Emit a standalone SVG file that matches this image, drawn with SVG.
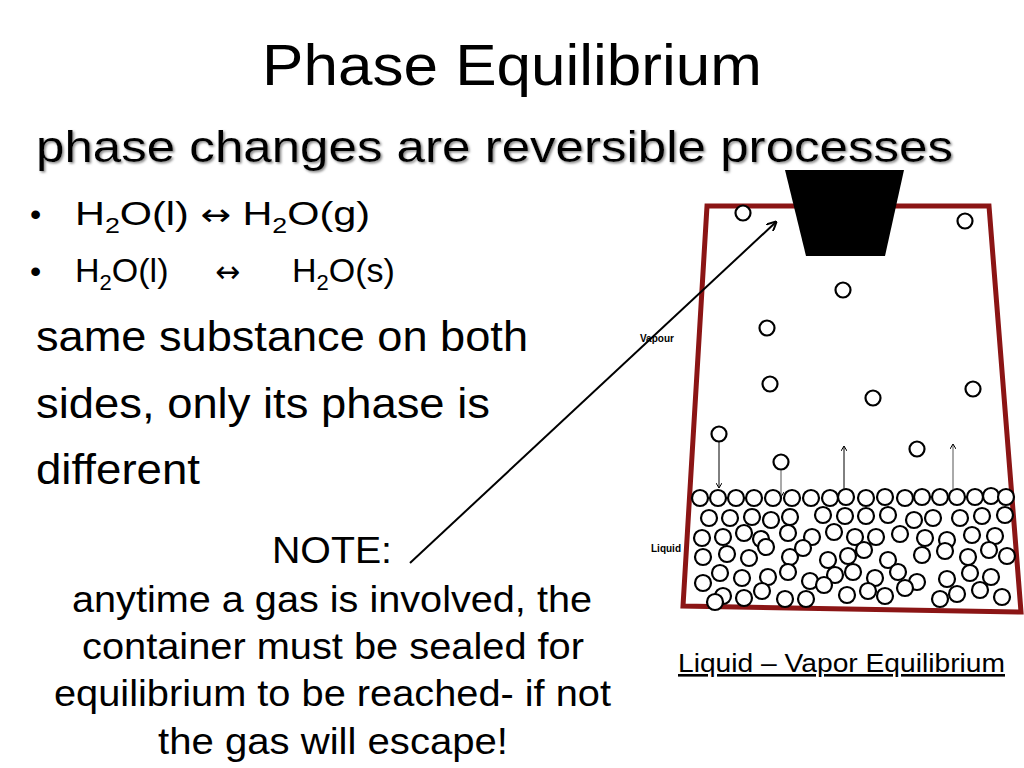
<svg xmlns="http://www.w3.org/2000/svg" width="1024" height="768" viewBox="0 0 1024 768">
<style>
text{font-family:"Liberation Sans",Arial,sans-serif;fill:#000}
.m circle{fill:#fff;stroke:#000;stroke-width:2.2}
.lbl{font-size:10px;font-weight:bold}
</style>
<defs>
<marker id="ah" markerWidth="10" markerHeight="10" refX="9" refY="5" orient="auto" markerUnits="userSpaceOnUse"><path d="M0,0 L10,5 L0,10" fill="none" stroke="#000" stroke-width="2"/></marker>
<marker id="sa" markerWidth="6" markerHeight="6" refX="5" refY="3" orient="auto" markerUnits="userSpaceOnUse"><path d="M0,0 L5,3 L0,6" fill="none" stroke="#000" stroke-width="1"/></marker>
<filter id="sh"><feDropShadow dx="1.5" dy="1.5" stdDeviation="1" flood-color="#888"/></filter>
</defs>
<rect width="1024" height="768" fill="#fff"/>
<text x="262" y="85" font-size="58" textLength="500" lengthAdjust="spacingAndGlyphs">Phase Equilibrium</text>
<text x="36" y="162" font-size="45" textLength="917" lengthAdjust="spacingAndGlyphs" filter="url(#sh)">phase changes are reversible processes</text>
<text x="30" y="225" font-size="32">•</text>
<text x="30" y="282" font-size="32">•</text>
<text x="75" y="225" font-size="34" textLength="295" lengthAdjust="spacingAndGlyphs">H<tspan font-size="22" dy="8">2</tspan><tspan dy="-8">O(l) </tspan><tspan font-family="DejaVu Sans" font-size="30">↔</tspan><tspan> H</tspan><tspan font-size="22" dy="8">2</tspan><tspan dy="-8">O(g)</tspan></text>
<text x="75" y="282" font-size="34">H<tspan font-size="22" dy="8">2</tspan><tspan dy="-8">O(l)</tspan><tspan x="215" font-family="DejaVu Sans" font-size="30">↔</tspan><tspan x="292">H</tspan><tspan font-size="22" dy="8">2</tspan><tspan dy="-8">O(s)</tspan></text>
<text x="36" y="351" font-size="42" textLength="492" lengthAdjust="spacingAndGlyphs">same substance on both</text>
<text x="36" y="418" font-size="42" textLength="454" lengthAdjust="spacingAndGlyphs">sides, only its phase is</text>
<text x="36" y="484" font-size="42" textLength="164" lengthAdjust="spacingAndGlyphs">different</text>
<g font-size="37">
<text x="272" y="563" textLength="120" lengthAdjust="spacingAndGlyphs">NOTE:</text>
<text x="72" y="612" textLength="520" lengthAdjust="spacingAndGlyphs">anytime a gas is involved, the</text>
<text x="82" y="659" textLength="502" lengthAdjust="spacingAndGlyphs">container must be sealed for</text>
<text x="54" y="706" textLength="557" lengthAdjust="spacingAndGlyphs">equilibrium to be reached- if not</text>
<text x="158" y="754" textLength="350" lengthAdjust="spacingAndGlyphs">the gas will escape!</text>
</g>
<text x="678" y="672" font-size="26" text-decoration="underline" textLength="327" lengthAdjust="spacingAndGlyphs">Liquid – Vapor Equilibrium</text>
<g id="container">
<path d="M707,206 L989,206 L1021,612 L683,606 Z" fill="none" stroke="#8b1515" stroke-width="5"/>
<path d="M785,170 L904,170 L885,256 L806,256 Z" fill="#000"/>
</g>
<text class="lbl" x="640" y="342">Vapour</text>
<text class="lbl" x="651" y="552">Liquid</text>
<g class="m" id="vapor">
<circle cx="743" cy="213" r="7.5"/><circle cx="965" cy="221" r="7.5"/><circle cx="843" cy="290" r="7.5"/><circle cx="767" cy="328" r="7.5"/><circle cx="770" cy="384" r="7.5"/><circle cx="973" cy="389" r="7.5"/><circle cx="873" cy="398" r="7.5"/><circle cx="719" cy="434" r="7.5"/><circle cx="917" cy="449" r="7.5"/><circle cx="781" cy="462" r="7.5"/>
</g>
<g class="m" id="liquid">
<circle cx="700" cy="498" r="8"/><circle cx="718" cy="498" r="8"/><circle cx="736" cy="498" r="8"/><circle cx="754" cy="498" r="8"/><circle cx="773" cy="498" r="8"/><circle cx="792" cy="498" r="8"/><circle cx="811" cy="498" r="8"/><circle cx="830" cy="498" r="8"/><circle cx="846" cy="497" r="8"/><circle cx="866" cy="498" r="8"/><circle cx="885" cy="497" r="8"/><circle cx="905" cy="498" r="8"/><circle cx="922" cy="497" r="8"/><circle cx="940" cy="497" r="8"/><circle cx="957" cy="497" r="8"/><circle cx="975" cy="497" r="8"/><circle cx="991" cy="496" r="8"/><circle cx="1006" cy="497" r="8"/>
<circle cx="709" cy="518" r="8"/><circle cx="730" cy="518" r="8"/><circle cx="752" cy="517" r="8"/><circle cx="771" cy="520" r="8"/><circle cx="790" cy="517" r="8"/><circle cx="823" cy="515" r="8"/><circle cx="845" cy="516" r="8"/><circle cx="866" cy="516" r="8"/><circle cx="888" cy="515" r="8"/><circle cx="914" cy="520" r="8"/><circle cx="933" cy="518" r="8"/><circle cx="960" cy="518" r="8"/><circle cx="982" cy="516" r="8"/><circle cx="1005" cy="515" r="8"/>
<circle cx="702" cy="538" r="8"/><circle cx="723" cy="537" r="8"/><circle cx="744" cy="533" r="8"/><circle cx="761" cy="539" r="8"/><circle cx="788" cy="533" r="8"/><circle cx="834" cy="532" r="8"/><circle cx="855" cy="537" r="8"/><circle cx="876" cy="537" r="8"/><circle cx="900" cy="534" r="8"/><circle cx="925" cy="538" r="8"/><circle cx="947" cy="540" r="8"/><circle cx="972" cy="535" r="8"/><circle cx="995" cy="536" r="8"/><circle cx="812" cy="537" r="8"/>
<circle cx="703" cy="557" r="8"/><circle cx="727" cy="554" r="8"/><circle cx="749" cy="558" r="8"/><circle cx="766" cy="547" r="8"/><circle cx="790" cy="557" r="8"/><circle cx="803" cy="548" r="8"/><circle cx="828" cy="560" r="8"/><circle cx="848" cy="556" r="8"/><circle cx="864" cy="550" r="8"/><circle cx="888" cy="560" r="8"/><circle cx="922" cy="555" r="8"/><circle cx="945" cy="551" r="8"/><circle cx="968" cy="557" r="8"/><circle cx="989" cy="550" r="8"/><circle cx="1007" cy="556" r="8"/>
<circle cx="720" cy="573" r="8"/><circle cx="742" cy="578" r="8"/><circle cx="768" cy="577" r="8"/><circle cx="788" cy="572" r="8"/><circle cx="810" cy="581" r="8"/><circle cx="835" cy="575" r="8"/><circle cx="853" cy="572" r="8"/><circle cx="875" cy="578" r="8"/><circle cx="898" cy="572" r="8"/><circle cx="917" cy="582" r="8"/><circle cx="947" cy="579" r="8"/><circle cx="970" cy="573" r="8"/><circle cx="991" cy="577" r="8"/>
<circle cx="703" cy="583" r="8"/><circle cx="723" cy="596" r="8"/><circle cx="744" cy="598" r="8"/><circle cx="762" cy="591" r="8"/><circle cx="785" cy="599" r="8"/><circle cx="806" cy="599" r="8"/><circle cx="824" cy="585" r="8"/><circle cx="847" cy="595" r="8"/><circle cx="868" cy="591" r="8"/><circle cx="885" cy="596" r="8"/><circle cx="905" cy="588" r="8"/><circle cx="940" cy="599" r="8"/><circle cx="957" cy="594" r="8"/><circle cx="980" cy="590" r="8"/><circle cx="1002" cy="597" r="8"/><circle cx="715" cy="602" r="8"/>
</g>
<g id="connectors" stroke="#000" fill="none">
<line x1="410" y1="563" x2="776" y2="222" stroke-width="2" marker-end="url(#ah)"/>
<line x1="719" y1="442" x2="719" y2="488" stroke-width="1" marker-end="url(#sa)"/>
<line x1="781" y1="470" x2="781" y2="497" stroke-width="1" stroke="#555" marker-end="url(#sa)"/>
<line x1="844" y1="490" x2="844" y2="446" stroke-width="1" marker-end="url(#sa)"/>
<line x1="953" y1="490" x2="953" y2="444" stroke-width="1" stroke="#555" marker-end="url(#sa)"/>
</g>
</svg>
